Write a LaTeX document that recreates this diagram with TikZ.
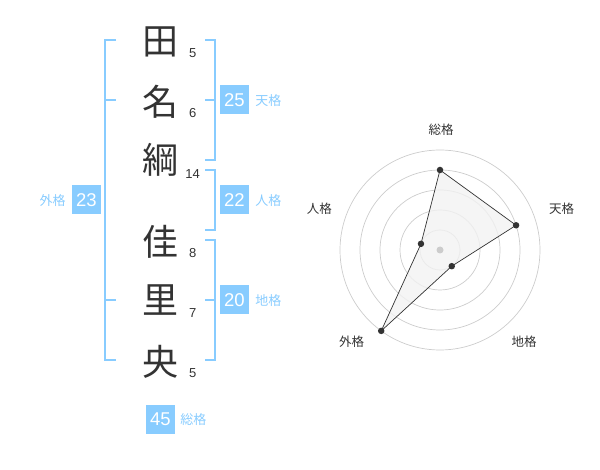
\documentclass[tikz,border=0pt]{standalone}
\usepackage{fontspec}
\setmainfont{Noto Sans CJK JP}
\newfontfamily\digitfont{Liberation Sans}
\usetikzlibrary{calc}
\definecolor{seimei}{HTML}{88CCFF}
\definecolor{ink}{HTML}{333333}
\definecolor{ring}{HTML}{CCCCCC}

\begin{document}
\begin{tikzpicture}[x=1pt, y=-1pt,
        kanji_style/.style={text=ink,inner sep=0pt,font=\fontsize{36}{36}\selectfont},
        stroke_style/.style={text=ink,inner sep=0pt,font=\digitfont\fontsize{13}{13}\selectfont},
        box_style/.style={fill=seimei,text=white,minimum size=29pt,inner sep=0pt,font=\digitfont\fontsize{18.5}{18.5}\selectfont},
        label_style/.style={text=seimei,inner sep=0pt,font=\fontsize{13}{13}\selectfont},
        bracket_style/.style={draw=seimei,line width=2pt},
        ring_style/.style={draw=ring,line width=0.7pt},
        axis_label_style/.style={text=ink,inner sep=0pt,font=\fontsize{12.5}{12.5}\selectfont},
        dot_style/.style={circle,fill=ink,inner sep=0pt,minimum size=6.5pt}]

        \useasboundingbox (0,0) rectangle (600,470);

        \node [kanji_style](k1) at (160,41.7) {田};
        \node [kanji_style](k2) at (160,101.7) {名};
        \node [kanji_style](k3) at (160,160) {綱};
        \node [kanji_style](k4) at (160,241.7) {佳};
        \node [kanji_style](k5) at (160,300) {里};
        \node [kanji_style](k6) at (160,361.7) {央};

        \node [stroke_style](s1) at (192.7,52.7) {5};
        \node [stroke_style](s2) at (192.7,113.3) {6};
        \node [stroke_style](s3) at (192.7,174) {14};
        \node [stroke_style](s4) at (192.7,252.7) {8};
        \node [stroke_style](s5) at (192.7,313.3) {7};
        \node [stroke_style](s6) at (192.7,372.7) {5};

        % brackets
        \draw [bracket_style] (116,40) -- (105,40) -- (105,360) -- (116,360);
        \draw [bracket_style] (105,100) -- (116,100);
        \draw [bracket_style] (105,300) -- (116,300);
        \draw [bracket_style] (205,40) -- (215,40) -- (215,160) -- (205,160);
        \draw [bracket_style] (205,100) -- (215,100);
        \draw [bracket_style] (205,170) -- (215,170) -- (215,230) -- (205,230);
        \draw [bracket_style] (205,240) -- (215,240) -- (215,360) -- (205,360);
        \draw [bracket_style] (205,300) -- (215,300);

        \node [box_style](ten) at (234.5,100) {25};
        \node [label_style,anchor=west](ten_l) at ($(ten.east)+(6,1)$) {天格};
        \node [box_style](jin) at (234.5,200) {22};
        \node [label_style,anchor=west](jin_l) at ($(jin.east)+(6,1)$) {人格};
        \node [box_style](chi) at (234.5,300) {20};
        \node [label_style,anchor=west](chi_l) at ($(chi.east)+(6,1)$) {地格};
        \node [box_style](gai) at (86.5,200) {23};
        \node [label_style,anchor=east](gai_l) at ($(gai.west)+(-6,1)$) {外格};
        \node [box_style](sou) at (160.5,419) {45};
        \node [label_style,anchor=west](sou_l) at ($(sou.east)+(5,1)$) {総格};

        % radar
        \coordinate (c) at (440,250);
        \foreach \r in {20,40,...,100}
            \draw [ring_style] (c) circle (\r);

        \coordinate (p1) at ($(c)+(-90:80)$);
        \coordinate (p2) at ($(c)+(-18:80)$);
        \coordinate (p3) at ($(c)+(54:20)$);
        \coordinate (p4) at ($(c)+(126:100)$);
        \coordinate (p5) at ($(c)+(198:20)$);
        \draw [draw=ink,fill=black!5,fill opacity=0.8,line width=0.7pt] (p1) -- (p2) -- (p3) -- (p4) -- (p5) -- cycle;
        \fill [ring] (c) circle (3.5);
        \foreach \p in {p1,p2,p3,p4,p5}
            \node [dot_style] at (\p) {};

        \node [axis_label_style](a1) at (441,130) {総格};
        \node [axis_label_style](a2) at (561.7,208.3) {天格};
        \node [axis_label_style](a3) at (524,341.7) {地格};
        \node [axis_label_style](a4) at (351.7,341.7) {外格};
        \node [axis_label_style](a5) at (319.3,208.3) {人格};

        \end{tikzpicture}
\end{document}
